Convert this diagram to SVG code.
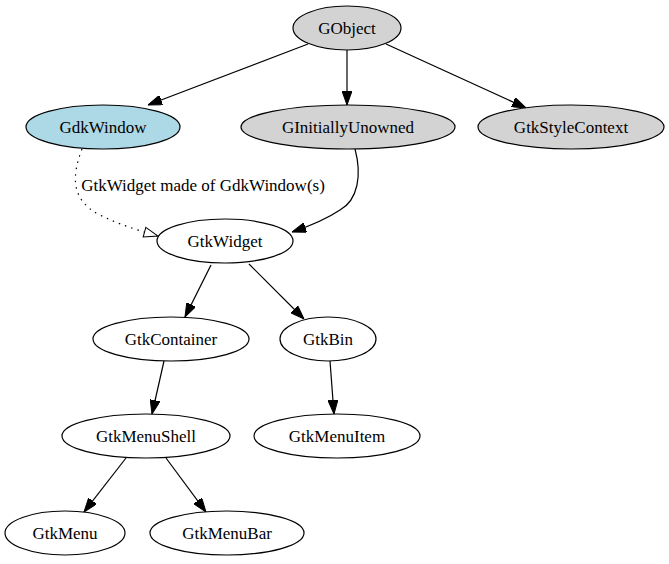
<svg xmlns="http://www.w3.org/2000/svg" width="669" height="564" viewBox="0 0 669 564">
<defs>
<marker id="arr" viewBox="0 0 14 10" refX="14" refY="5" markerWidth="14" markerHeight="10" orient="auto" markerUnits="userSpaceOnUse"><path d="M0,0 L14,5 L0,10 z" fill="#000" stroke="#000" stroke-width="1"/></marker>
<marker id="open" viewBox="-1 -1 16 12" refX="14" refY="5" markerWidth="16" markerHeight="12" orient="auto" markerUnits="userSpaceOnUse"><path d="M0,0 L14,5 L0,10 z" fill="#fff" stroke="#000" stroke-width="1"/></marker>
</defs>
<style>
.n ellipse{fill:#fff;stroke:#000;stroke-width:1.2}
.g ellipse{fill:#d3d3d3}
.b ellipse{fill:#add8e6}
text{font-family:"Liberation Serif","Times New Roman",serif;font-size:17px;text-anchor:middle;fill:#000}
.e{fill:none;stroke:#000;stroke-width:1.2;marker-end:url(#arr)}
.d{fill:none;stroke:#000;stroke-width:1.2;stroke-dasharray:1.5,5;marker-end:url(#open)}
</style>
<rect width="669" height="564" fill="#fff"/>
<g id="edges">
<path class="e" d="M308,44 L148,105"/>
<path class="e" d="M347,50 L347,105"/>
<path class="e" d="M386,44 L526,108"/>
<path class="d" d="M82,149 C72,175 70,200 100,215 C120,225 140,231 158,236"/>
<path class="e" d="M355,149 C362,175 358,200 340,210 C325,220 310,226 292,232"/>
<text x="203" y="191">GtkWidget made of GdkWindow(s)</text>
<path class="e" d="M211,265 L185,317"/>
<path class="e" d="M249,264 L304,319"/>
<path class="e" d="M164,361 L152,414"/>
<path class="e" d="M330,361 L334,414"/>
<path class="e" d="M126,458 L84,512"/>
<path class="e" d="M166,458 L206,512"/>
</g>
<g id="GObject" class="n g"><ellipse cx="347" cy="28" rx="54" ry="22"/><text x="347" y="34">GObject</text></g>
<g id="GdkWindow" class="n b"><ellipse cx="103" cy="127" rx="77" ry="22"/><text x="103" y="133">GdkWindow</text></g>
<g id="GInitiallyUnowned" class="n g"><ellipse cx="348" cy="127" rx="107" ry="22"/><text x="348" y="133">GInitiallyUnowned</text></g>
<g id="GtkStyleContext" class="n g"><ellipse cx="571" cy="127" rx="93" ry="22"/><text x="571" y="133">GtkStyleContext</text></g>
<g id="GtkWidget" class="n"><ellipse cx="225" cy="241" rx="68" ry="22"/><text x="225" y="247">GtkWidget</text></g>
<g id="GtkContainer" class="n"><ellipse cx="171" cy="339" rx="78" ry="22"/><text x="171" y="345">GtkContainer</text></g>
<g id="GtkBin" class="n"><ellipse cx="328" cy="339" rx="48" ry="22"/><text x="328" y="345">GtkBin</text></g>
<g id="GtkMenuShell" class="n"><ellipse cx="146" cy="436" rx="84" ry="22"/><text x="146" y="442">GtkMenuShell</text></g>
<g id="GtkMenuItem" class="n"><ellipse cx="337" cy="436" rx="83" ry="22"/><text x="337" y="442">GtkMenuItem</text></g>
<g id="GtkMenu" class="n"><ellipse cx="65" cy="533" rx="60" ry="22"/><text x="65" y="539">GtkMenu</text></g>
<g id="GtkMenuBar" class="n"><ellipse cx="227" cy="533" rx="77" ry="22"/><text x="227" y="539">GtkMenuBar</text></g>
</svg>
